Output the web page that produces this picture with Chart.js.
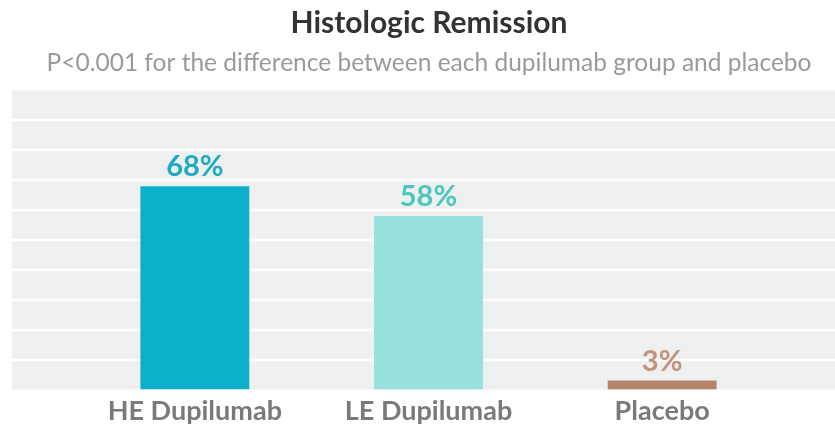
<!DOCTYPE html>
<html>
<head>
<meta charset="utf-8">
<script src="https://cdn.jsdelivr.net/npm/chart.js@4/dist/chart.umd.min.js"></script>
<style>
  html, body { margin: 0; padding: 0; background: #fff; overflow: hidden; }
  canvas { display: block; }
</style>
</head>
<body>
<canvas id="remissionChart" width="835" height="432"></canvas>
<script>
// data
const groups = ['HE Dupilumab', 'LE Dupilumab', 'Placebo'];
const remission = [68, 58, 3];
const barColors = ['#0BAFC9', '#96E1DB', '#B5836A'];
const labelColors = ['#1FA9C2', '#4CC7BC', '#C3937E'];

const FONT = 'Lato, "Open Sans", sans-serif';

// gray band + white rules across the full width, like the print figure
const bandPlugin = {
  id: 'band',
  beforeDatasetsDraw(chart) {
    const { ctx, scales: { y } } = chart;
    const top = y.getPixelForValue(100);
    const bottom = y.getPixelForValue(0);
    ctx.save();
    ctx.fillStyle = '#EEEFEF';
    ctx.fillRect(12, top, chart.width - 12, bottom - top);
    ctx.strokeStyle = '#FFFFFF';
    ctx.lineWidth = 2.5;
    y.ticks.forEach(t => {
      if (t.value <= 0 || t.value >= 100) return;
      const py = Math.round(y.getPixelForValue(t.value));
      ctx.beginPath();
      ctx.moveTo(12, py);
      ctx.lineTo(chart.width, py);
      ctx.stroke();
    });
    ctx.restore();
  }
};

// value labels above bars
const valueLabels = {
  id: 'valueLabels',
  afterDatasetsDraw(chart) {
    const { ctx } = chart;
    const meta = chart.getDatasetMeta(0);
    ctx.save();
    ctx.font = `bold 29px ${FONT}`;
    ctx.textAlign = 'center';
    ctx.textBaseline = 'alphabetic';
    meta.data.forEach((bar, i) => {
      ctx.fillStyle = labelColors[i];
      ctx.fillText(remission[i] + '%', bar.x, bar.y - 10);
    });
    ctx.restore();
  }
};

new Chart(document.getElementById('remissionChart'), {
  type: 'bar',
  data: {
    labels: groups,
    datasets: [{
      data: remission,
      backgroundColor: barColors,
      borderWidth: 0,
      barPercentage: 0.466,
      categoryPercentage: 1
    }]
  },
  options: {
    responsive: false,
    animation: false,
    devicePixelRatio: 1,
    layout: { padding: { left: 23, right: 0, top: 0, bottom: 0 } },
    plugins: {
      legend: { display: false },
      tooltip: { enabled: false },
      title: {
        display: true,
        text: 'Histologic Remission',
        color: '#333333',
        font: { family: FONT, size: 30, weight: 'bold' },
        padding: { top: 5, bottom: 7 }
      },
      subtitle: {
        display: true,
        text: 'P<0.001 for the difference between each dupilumab group and placebo',
        color: '#9A9A9A',
        font: { family: FONT, size: 24.5 },
        padding: { bottom: 13 }
      }
    },
    scales: {
      x: {
        grid: { display: false, drawTicks: false },
        border: { display: false },
        ticks: {
          color: '#7A7A7A',
          font: { family: FONT, size: 27, weight: 'bold' },
          padding: 5,
          maxRotation: 0
        }
      },
      y: {
        min: 0,
        max: 100,
        ticks: { stepSize: 10, display: false },
        grid: { display: false, drawTicks: false },
        border: { display: false },
        afterFit(s) { s.width = 55; }
      },
      // empty right axis, only reserves room on the right
      yRight: {
        position: 'right',
        min: 0,
        max: 100,
        ticks: { display: false },
        grid: { display: false, drawTicks: false },
        border: { display: false },
        afterFit(s) { s.width = 56; }
      }
    }
  },
  plugins: [bandPlugin, valueLabels]
});
</script>
</body>
</html>
